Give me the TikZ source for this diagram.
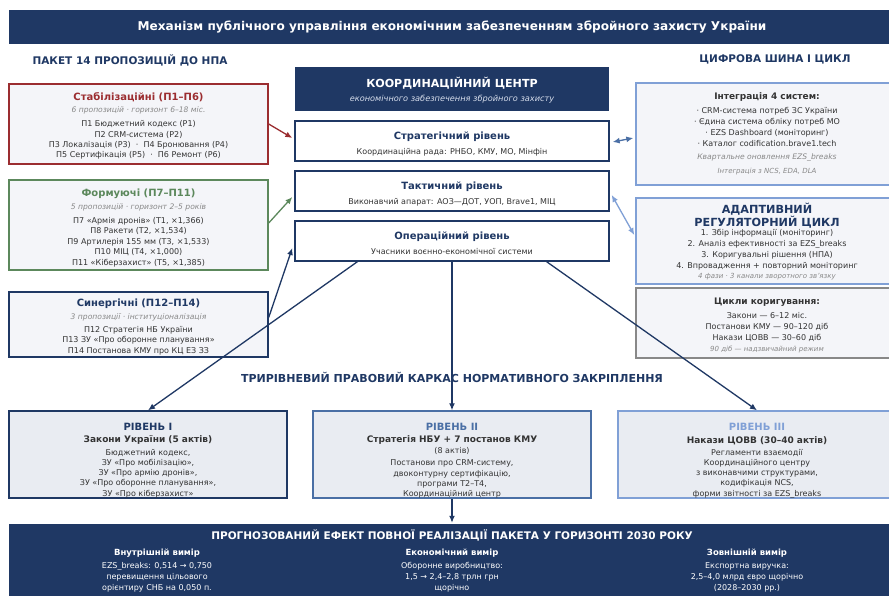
\documentclass[tikz,border=0pt]{standalone}
\usepackage{fontspec}
\setmainfont{DejaVu Sans}
\usetikzlibrary{calc,arrows.meta}

\definecolor{cNavy}{RGB}{31,56,100}
\definecolor{cMid}{RGB}{74,111,165}
\definecolor{cLight}{RGB}{128,160,214}
\definecolor{cRed}{RGB}{155,45,48}
\definecolor{cGreen}{RGB}{92,136,92}
\definecolor{cGrayBox}{RGB}{136,136,136}
\definecolor{cText}{RGB}{51,51,51}
\definecolor{cGray}{RGB}{136,136,136}
\definecolor{cFill}{RGB}{244,245,249}
\definecolor{cLvl}{RGB}{233,236,242}
\definecolor{cPale}{RGB}{215,222,236}

\tikzset{
	panel/.style={draw, line width=1.4pt, fill=cFill, inner sep=0pt},
	band/.style={fill=cNavy, inner sep=0pt},
	ttl/.style={font=\bfseries\fontsize{10}{12}\selectfont, inner sep=0pt},
	head/.style={font=\bfseries\fontsize{10.5}{12}\selectfont, text=cNavy, inner sep=0pt},
	sub/.style={font=\itshape\fontsize{7.6}{9}\selectfont, text=cGray, inner sep=0pt},
	body/.style={font=\fontsize{8}{10.3}\selectfont, text=cText, align=center, inner sep=0pt},
	link/.style={line width=1.3pt, -{Latex[length=7pt,width=6pt]}},
	twolink/.style={line width=1.3pt, {Latex[length=7pt,width=6pt]}-{Latex[length=7pt,width=6pt]}},
}

\begin{document}
\begin{tikzpicture}[x=1pt, y=-1pt]
			%%%%% START %%%%%
			\useasboundingbox (0,0) rectangle (889,595);
			\clip (0,0) rectangle (889,595);
			\fill[white] (0,0) rectangle (889,595);
			
			% title
			\node[band, minimum width=886, minimum height=34] (top) at (452,27) {};
			\node[font=\bfseries\fontsize{12.1}{14}\selectfont, text=white, inner sep=0pt] (topT) at (452,27) {Механізм публічного управління економічним забезпеченням збройного захисту України};
			
			\node[head] (leftH) at (130,60) {ПАКЕТ 14 ПРОПОЗИЦІЙ ДО НПА};
			\node[head] (rightH) at (775,59) {ЦИФРОВА ШИНА І ЦИКЛ};
			
			% package boxes
			\node[panel, draw=cRed, minimum width=259, minimum height=80] (stab) at (138.5,124) {};
			\node[ttl, text=cRed] (stabT) at (138.5,97) {Стабілізаційні (П1–П6)};
			\node[sub] (stabS) at (138.5,110) {6 пропозицій · горизонт 6–18 міс.};
			\node[body] (stabB) at (138.5,140) {П1 Бюджетний кодекс (P1)\\П2 CRM-система (P2)\\П3 Локалізація (P3)~~·~~П4 Бронювання (P4)\\П5 Сертифікація (P5)~~·~~П6 Ремонт (P6)};
			
			\node[panel, draw=cGreen, minimum width=259, minimum height=90] (form) at (138.5,225) {};
			\node[ttl, text=cGreen] (formT) at (138.5,194) {Формуючі (П7–П11)};
			\node[sub] (formS) at (138.5,207) {5 пропозицій · горизонт 2–5 років};
			\node[body, font=\fontsize{8}{10.5}\selectfont] (formB) at (138.5,242) {П7 «Армія дронів» (T1, ×1,366)\\П8 Ракети (T2, ×1,534)\\П9 Артилерія 155 мм (T3, ×1,533)\\П10 МІЦ (T4, ×1,000)\\П11 «Кіберзахист» (T5, ×1,385)};
			
			\node[panel, draw=cNavy, minimum width=259, minimum height=65] (syn) at (138.5,324.5) {};
			\node[ttl, text=cNavy] (synT) at (138.5,304) {Синергічні (П12–П14)};
			\node[sub] (synS) at (138.5,317) {3 пропозиції · інституціоналізація};
			\node[body, font=\fontsize{8}{10.5}\selectfont] (synB) at (138.5,340.5) {П12 Стратегія НБ України\\П13 ЗУ «Про оборонне планування»\\П14 Постанова КМУ про КЦ ЕЗ ЗЗ};
			
			% coordination centre
			\node[band, minimum width=314, minimum height=44] (kc) at (452,89) {};
			\node[font=\bfseries\fontsize{11.1}{13}\selectfont, text=white, inner sep=0pt] (kcT) at (452,83) {КООРДИНАЦІЙНИЙ ЦЕНТР};
			\node[font=\itshape\fontsize{8.2}{10}\selectfont, text=cPale, inner sep=0pt] (kcS) at (452,99) {економічного забезпечення збройного захисту};
			
			\node[panel, draw=cNavy, fill=white, minimum width=314, minimum height=40] (strat) at (452,141) {};
			\node[ttl, text=cNavy] (stratT) at (452,137) {Стратегічний рівень};
			\node[body] (stratS) at (452,152) {Координаційна рада: РНБО, КМУ, МО, Мінфін};
			
			\node[panel, draw=cNavy, fill=white, minimum width=314, minimum height=40] (takt) at (452,191) {};
			\node[ttl, text=cNavy] (taktT) at (452,187) {Тактичний рівень};
			\node[body] (taktS) at (452,202) {Виконавчий апарат: АОЗ—ДОТ, УОП, Brave1, МІЦ};
			
			\node[panel, draw=cNavy, fill=white, minimum width=314, minimum height=40] (oper) at (452,241) {};
			\node[ttl, text=cNavy] (operT) at (452,237) {Операційний рівень};
			\node[body] (operS) at (452,252) {Учасники воєнно-економічної системи};
			
			% digital bus and cycle
			\node[panel, draw=cLight, minimum width=262, minimum height=102] (integ) at (767,134) {};
			\node[ttl, text=cText, font=\bfseries\fontsize{9}{11}\selectfont] (integT) at (767,97) {Інтеграція 4 систем:};
			\node[body, font=\fontsize{8}{11}\selectfont] (integB) at (767,127) {· CRM-система потреб ЗС України\\· Єдина система обліку потреб МО\\· EZS Dashboard (моніторинг)\\· Каталог codification.brave1.tech};
			\node[sub] (integS) at (767,158) {Квартальне оновлення EZS\_breaks};
			\node[sub, font=\itshape\fontsize{7}{9}\selectfont] (integS2) at (767,172) {Інтеграція з NCS, EDA, DLA};
			
			\node[panel, draw=cLight, minimum width=262, minimum height=86] (adapt) at (767,241) {};
			\node[ttl, text=cNavy, align=center, font=\bfseries\fontsize{11.2}{11}\selectfont] (adaptT) at (767,215.5) {АДАПТИВНИЙ\\РЕГУЛЯТОРНИЙ ЦИКЛ};
			\node[body, font=\fontsize{8}{11}\selectfont] (adaptB) at (767,249.5) {1. Збір інформації (моніторинг)\\2. Аналіз ефективності за EZS\_breaks\\3. Коригувальні рішення (НПА)\\4. Впровадження + повторний моніторинг};
			\node[sub, font=\itshape\fontsize{7}{9}\selectfont] (adaptS) at (767,277) {4 фази · 3 канали зворотного зв'язку};
			
			\node[panel, draw=cGrayBox, minimum width=262, minimum height=70] (corr) at (767,323) {};
			\node[ttl, text=cText, font=\bfseries\fontsize{9}{11}\selectfont] (corrT) at (767,302) {Цикли коригування:};
			\node[body, font=\fontsize{8}{11}\selectfont] (corrB) at (767,327) {Закони — 6–12 міс.\\Постанови КМУ — 90–120 діб\\Накази ЦОВВ — 30–60 діб};
			\node[sub, font=\itshape\fontsize{7}{9}\selectfont] (corrS) at (767,350) {90 діб — надзвичайний режим};
			
			% legal framework
			\node[head, font=\bfseries\fontsize{11}{13}\selectfont] (midH) at (452,377) {ТРИРІВНЕВИЙ ПРАВОВИЙ КАРКАС НОРМАТИВНОГО ЗАКРІПЛЕННЯ};
			
			\node[panel, draw=cNavy, fill=cLvl, minimum width=278, minimum height=87] (lvlA) at (148,454.5) {};
			\node[ttl, text=cNavy] (lvlAT) at (148,427) {РІВЕНЬ I};
			\node[ttl, text=cText, font=\bfseries\fontsize{9}{11}\selectfont] (lvlAS) at (148,440) {Закони України (5 актів)};
			\node[body, font=\fontsize{8}{10.25}\selectfont] (lvlAB) at (148,473.5) {Бюджетний кодекс,\\ЗУ «Про мобілізацію»,\\ЗУ «Про армію дронів»,\\ЗУ «Про оборонне планування»,\\ЗУ «Про кіберзахист»};
			
			\node[panel, draw=cMid, fill=cLvl, minimum width=278, minimum height=87] (lvlB) at (452,454.5) {};
			\node[ttl, text=cMid] (lvlBT) at (452,427) {РІВЕНЬ II};
			\node[ttl, text=cText, font=\bfseries\fontsize{9}{11}\selectfont] (lvlBS) at (452,440) {Стратегія НБУ + 7 постанов КМУ};
			\node[body] (lvlBN) at (452,451) {(8 актів)};
			\node[body, font=\fontsize{8}{10.25}\selectfont] (lvlBB) at (452,479) {Постанови про CRM-систему,\\двоконтурну сертифікацію,\\програми T2–T4,\\Координаційний центр};
			
			\node[panel, draw=cLight, fill=cLvl, minimum width=278, minimum height=87] (lvlC) at (757,454.5) {};
			\node[ttl, text=cLight] (lvlCT) at (757,427) {РІВЕНЬ III};
			\node[ttl, text=cText, font=\bfseries\fontsize{9}{11}\selectfont] (lvlCS) at (757,441) {Накази ЦОВВ (30–40 актів)};
			\node[body, font=\fontsize{8}{10.25}\selectfont] (lvlCB) at (757,473.5) {Регламенти взаємодії\\Координаційного центру\\з виконавчими структурами,\\кодифікація NCS,\\форми звітності за EZS\_breaks};
			
			% forecast band
			\node[band, minimum width=886, minimum height=80] (effect) at (452,564) {};
			\node[font=\bfseries\fontsize{10.5}{12}\selectfont, text=white, inner sep=0pt] (effectT) at (452,535) {ПРОГНОЗОВАНИЙ ЕФЕКТ ПОВНОЇ РЕАЛІЗАЦІЇ ПАКЕТА У ГОРИЗОНТІ 2030 РОКУ};
			\node[ttl, text=white, font=\bfseries\fontsize{8.5}{10}\selectfont] (effAT) at (157,553) {Внутрішній вимір};
			\node[body, text=white, font=\fontsize{8}{11}\selectfont] (effAB) at (157,577) {EZS\_breaks: 0,514 → 0,750\\перевищення цільового\\орієнтиру СНБ на 0,050 п.};
			\node[ttl, text=white, font=\bfseries\fontsize{8.5}{10}\selectfont] (effBT) at (452,553) {Економічний вимір};
			\node[body, text=white, font=\fontsize{8}{11}\selectfont] (effBB) at (452,577) {Оборонне виробництво:\\1,5 → 2,4–2,8 трлн грн\\щорічно};
			\node[ttl, text=white, font=\bfseries\fontsize{8.5}{10}\selectfont] (effCT) at (747,553) {Зовнішній вимір};
			\node[body, text=white, font=\fontsize{8}{11}\selectfont] (effCB) at (747,577) {Експортна виручка:\\2,5–4,0 млрд євро щорічно\\(2028–2030 рр.)};
			
			% arrows
			\draw[link, cRed] (stab.east) -- ($(strat.west)+(-2,-3)$);
			\draw[link, cGreen] ($(form.east)+(0,-2)$) -- ($(takt.west)+(-2,6)$);
			\draw[link, cNavy] ($(syn.east)+(0,-7)$) -- ($(oper.west)+(-2,7)$);
			\draw[link, cNavy] ($(oper.south west)!0.2!(oper.south east)$) -- (lvlA.north);
			\draw[link, cNavy] (oper.south) -- (lvlB.north);
			\draw[link, cNavy] ($(oper.south west)!0.8!(oper.south east)$) -- (lvlC.north);
			\draw[link, cNavy] (lvlB.south) -- ($(effect.north)+(0,-1)$);
			\draw[twolink, cMid] ($(strat.east)+(3,1)$) -- ($(integ.west)+(-2,4)$);
			\draw[twolink, cLight] ($(takt.east)+(2,4)$) -- ($(adapt.west)+(-1,-6)$);
			
			%%%%% END %%%%%
\end{tikzpicture}
\end{document}
